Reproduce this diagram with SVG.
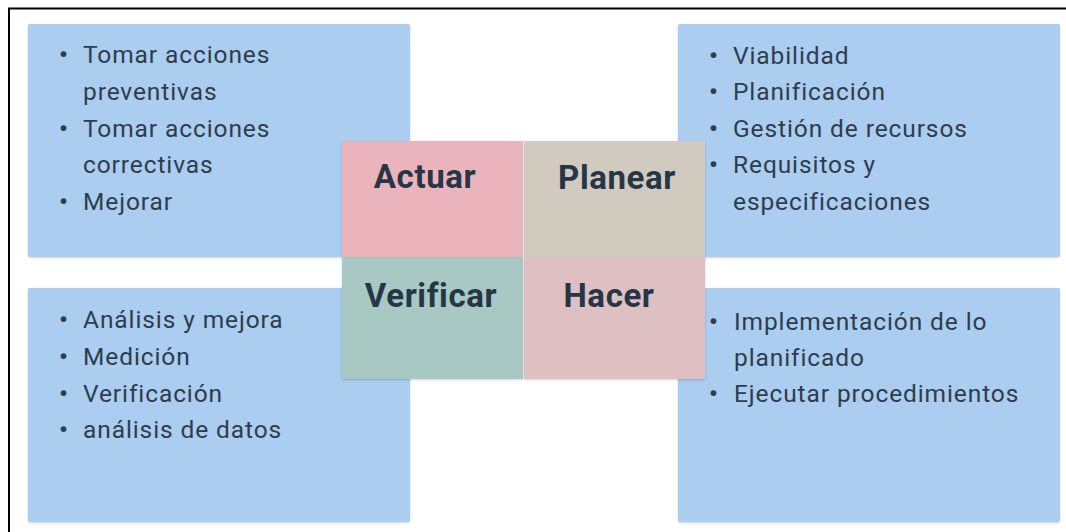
<svg xmlns="http://www.w3.org/2000/svg" width="1066" height="532" viewBox="0 0 1066 532">
  <defs>
    <filter id="soft" x="-5%" y="-5%" width="110%" height="115%">
      <feDropShadow dx="0" dy="1" stdDeviation="1" flood-color="#000" flood-opacity="0.18"/>
    </filter>
    <style>
      .panel { fill: #aacdf0; filter: url(#soft); }
      .tile { filter: url(#soft); }
      .item { font-family: Roboto, "Liberation Sans", sans-serif; font-size: 24.5px; fill: #2e3d4d; letter-spacing: 0.9px; }
      .dot { font-family: Roboto, "Liberation Sans", sans-serif; font-size: 24.5px; fill: #2e3d4d; font-weight: bold; }
      .title { font-family: Roboto, "Liberation Sans", sans-serif; font-size: 33px; font-weight: bold; fill: #253646; text-anchor: middle; letter-spacing: 0.6px; }
    </style>
  </defs>

  <rect width="1066" height="532" fill="#ffffff"/>
  <!-- outer frame, running off the right and bottom edges -->
  <rect x="9" y="8.5" width="1080" height="540" fill="none" stroke="#000" stroke-width="2"/>

  <!-- corner panels -->
  <g id="panel-actuar">
    <rect class="panel" x="28" y="24" width="382" height="233" rx="2"/>
    <text class="dot" x="59" y="63">•</text>
    <text class="item" x="83" y="63">Tomar acciones</text>
    <text class="item" x="83" y="100">preventivas</text>
    <text class="dot" x="59" y="137">•</text>
    <text class="item" x="83" y="137">Tomar acciones</text>
    <text class="item" x="83" y="173">correctivas</text>
    <text class="dot" x="59" y="210">•</text>
    <text class="item" x="83" y="210">Mejorar</text>
  </g>

  <g id="panel-planear">
    <rect class="panel" x="678" y="24" width="382" height="233" rx="2"/>
    <text class="dot" x="709" y="64">•</text>
    <text class="item" x="733" y="64">Viabilidad</text>
    <text class="dot" x="709" y="100">•</text>
    <text class="item" x="733" y="100">Planificación</text>
    <text class="dot" x="709" y="137">•</text>
    <text class="item" x="733" y="137">Gestión de recursos</text>
    <text class="dot" x="709" y="173">•</text>
    <text class="item" x="733" y="173">Requisitos y</text>
    <text class="item" x="733" y="210">especificaciones</text>
  </g>

  <g id="panel-verificar">
    <rect class="panel" x="28" y="288" width="382" height="234" rx="2"/>
    <text class="dot" x="59" y="328">•</text>
    <text class="item" x="83" y="328">Análisis y mejora</text>
    <text class="dot" x="59" y="365">•</text>
    <text class="item" x="83" y="365">Medición</text>
    <text class="dot" x="59" y="402">•</text>
    <text class="item" x="83" y="402">Verificación</text>
    <text class="dot" x="59" y="438">•</text>
    <text class="item" x="83" y="438">análisis de datos</text>
  </g>

  <g id="panel-hacer">
    <rect class="panel" x="678" y="288" width="382" height="234" rx="2"/>
    <text class="dot" x="709" y="330">•</text>
    <text class="item" x="734" y="330">Implementación de lo</text>
    <text class="item" x="734" y="366">planificado</text>
    <text class="dot" x="709" y="402">•</text>
    <text class="item" x="734" y="402">Ejecutar procedimientos</text>
  </g>

  <!-- PDCA centre tiles -->
  <g id="tile-actuar">
    <rect class="tile" x="342" y="141" width="181" height="116" fill="#ebb4bd"/>
    <text class="title" x="425" y="188">Actuar</text>
  </g>
  <g id="tile-planear">
    <rect class="tile" x="524" y="141" width="181" height="116" fill="#d1cabf"/>
    <text class="title" x="617" y="189">Planear</text>
  </g>
  <g id="tile-verificar">
    <rect class="tile" x="342" y="257" width="181" height="122" fill="#a7c8c3"/>
    <text class="title" x="431" y="307">Verificar</text>
  </g>
  <g id="tile-hacer">
    <rect class="tile" x="524" y="257" width="181" height="122" fill="#debfc2"/>
    <text class="title" x="609" y="307">Hacer</text>
  </g>
</svg>
